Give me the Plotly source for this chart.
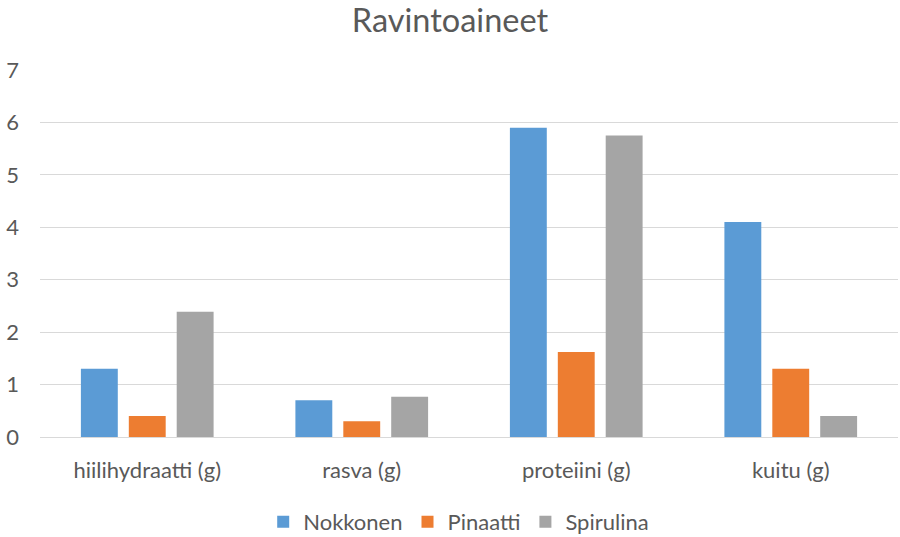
import plotly.graph_objects as go

categories = ["hiilihydraatti (g)", "rasva (g)", "proteiini (g)", "kuitu (g)"]
nokkonen = [1.3, 0.7, 5.9, 4.1]
pinaatti = [0.4, 0.3, 1.62, 1.3]
spirulina = [2.39, 0.77, 5.75, 0.4]
series_names = ["Nokkonen", "Pinaatti", "Spirulina"]
colors = ["#5B9BD5", "#ED7D31", "#A5A5A5"]

fig = go.Figure()
for name, vals, c in zip(series_names, [nokkonen, pinaatti, spirulina], colors):
    fig.add_trace(go.Bar(x=categories, y=vals, name=name, marker_color=c,
                         marker_line_width=0))

fig.update_layout(
    width=900, height=537,
    paper_bgcolor="white", plot_bgcolor="white",
    font=dict(family="Lato, Carlito, sans-serif", size=22, color="#595959"),
    title=dict(text="Ravintoaineet", x=0.5, xanchor="center", y=0.962, yanchor="middle",
               font=dict(size=32.5, color="#595959")),
    margin=dict(l=40, r=2, t=70, b=100),
    barmode="group", bargap=0.33, bargroupgap=0.23,
    legend=dict(orientation="h", x=0.488, xanchor="center", yref="container",
                y=0.028, yanchor="middle",
                font=dict(size=22, color="#595959"), itemwidth=30),
    showlegend=True,
)
fig.update_yaxes(range=[0, 7], dtick=1, showgrid=True, gridcolor="#D9D9D9", gridwidth=1,
                 zeroline=False, showline=False, ticks="", ticklabelstandoff=20,
                 automargin=False, tickfont=dict(size=22, color="#595959"))
fig.update_xaxes(showline=True, linecolor="#D9D9D9", linewidth=1, ticks="",
                 ticklabelstandoff=14, automargin=False,
                 tickfont=dict(size=22, color="#595959"))

fig.write_html("out.html", config={"displayModeBar": False},
               post_script="document.body.style.margin='0';")
